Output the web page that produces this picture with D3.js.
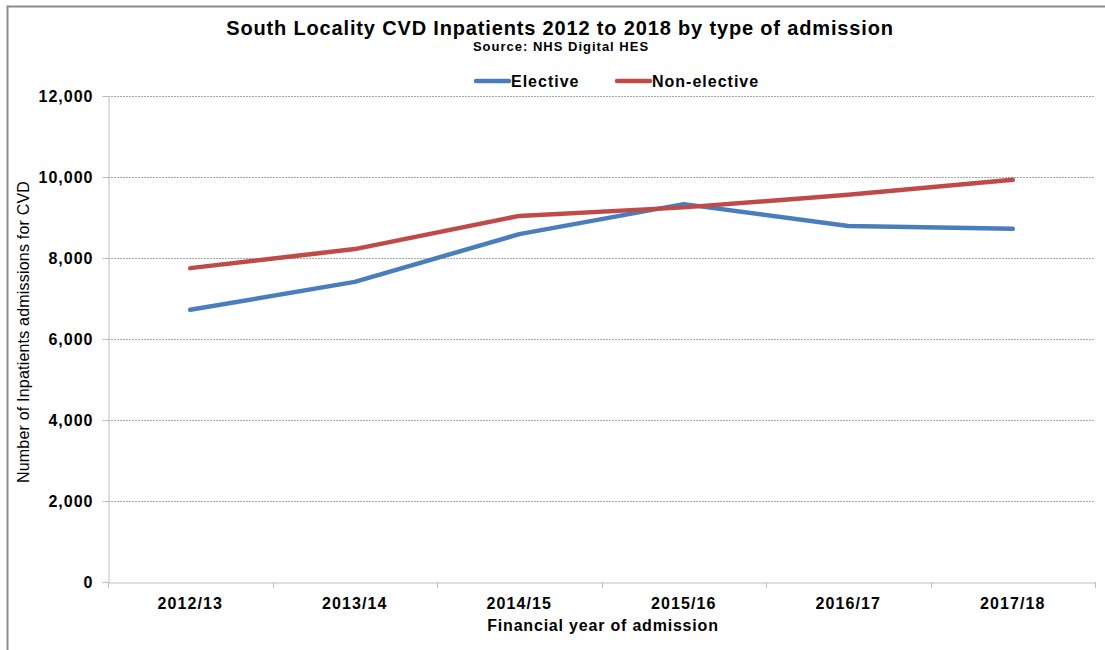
<!DOCTYPE html>
<html><head><meta charset="utf-8">
<script src="https://cdn.jsdelivr.net/npm/d3@7"></script>
<style>
html,body{margin:0;padding:0;background:#fff;}
svg{display:block;font-family:"Liberation Sans",Arial,sans-serif;}
</style></head>
<body>
<svg id="chart" width="1105" height="650"></svg>
<script>
const categories = ["2012/13","2013/14","2014/15","2015/16","2016/17","2017/18"];
const elective = [6720, 7410, 8590, 9330, 8790, 8720];
const nonElective = [7750, 8220, 9040, 9250, 9560, 9930];
const yTicks = [0, 2000, 4000, 6000, 8000, 10000, 12000];
const seriesNames = ["Elective", "Non-elective"];
const seriesColors = ["#4a7ebb", "#be4b48"];

const svg = d3.select("#chart");
const margin = {left:108, right:1095, top:96, bottom:582};

// outer frame (left + top)
svg.append("path").attr("d","M7.5,650 L7.5,6.5 L1105,6.5")
  .attr("fill","none").attr("stroke","#8c8c8c").attr("stroke-width",2);

const x = d3.scaleBand().domain(categories).range([margin.left, margin.right]).padding(0);
const y = d3.scaleLinear().domain([0,12000]).range([margin.bottom, margin.top]);

// gridlines
svg.append("g").selectAll("line").data(yTicks.filter(d=>d>0)).join("line")
  .attr("x1",margin.left).attr("x2",margin.right)
  .attr("y1",d=>Math.round(y(d))+0.5).attr("y2",d=>Math.round(y(d))+0.5)
  .attr("stroke","#a6a6a6").attr("stroke-width",1).attr("stroke-dasharray","2,1");

// y axis
const yAxis = svg.append("g").attr("transform",`translate(${margin.left+0.5},0)`)
  .call(d3.axisLeft(y).tickValues(yTicks).tickSize(6).tickPadding(9).tickFormat(d3.format(",")));
yAxis.select(".domain").attr("stroke","#bfbfbf");
yAxis.selectAll(".tick line").attr("stroke","#bfbfbf");
yAxis.selectAll("text").attr("font-size",16).attr("font-weight","bold").attr("fill","#000")
  .attr("letter-spacing",1).attr("font-family","Liberation Sans, Arial, sans-serif");

// x axis
const xAxis = svg.append("g").attr("transform",`translate(0,${margin.bottom+0.5})`)
  .call(d3.axisBottom(x).tickSize(0).tickPadding(15));
xAxis.select(".domain").attr("stroke","#bfbfbf");
xAxis.selectAll("text").attr("font-size",16).attr("font-weight","bold").attr("fill","#000")
  .attr("letter-spacing",1.1).attr("font-family","Liberation Sans, Arial, sans-serif");
// category boundary ticks
const bounds = categories.map(c=>x(c)).concat([x(categories[categories.length-1])+x.bandwidth()]);
svg.append("g").selectAll("line").data(bounds).join("line")
  .attr("x1",d=>Math.round(d)+0.5).attr("x2",d=>Math.round(d)+0.5)
  .attr("y1",margin.bottom).attr("y2",margin.bottom+6)
  .attr("stroke","#bfbfbf");

// lines
const line = d3.line().x((d,i)=>x(categories[i])+x.bandwidth()/2).y(d=>y(d));
[elective, nonElective].forEach((s,i)=>{
  svg.append("path").datum(s).attr("d",line).attr("fill","none")
    .attr("stroke",seriesColors[i]).attr("stroke-width",4.5)
    .attr("stroke-linejoin","round").attr("stroke-linecap","round");
});

// title
svg.append("text").attr("x",560).attr("y",35).attr("text-anchor","middle")
  .attr("font-size",20).attr("font-weight","bold").attr("letter-spacing",0.84)
  .text("South Locality CVD Inpatients 2012 to 2018 by type of admission");
svg.append("text").attr("x",561).attr("y",51).attr("text-anchor","middle")
  .attr("font-size",13).attr("font-weight","bold").attr("letter-spacing",1)
  .text("Source: NHS Digital HES");

// legend
const legX = [476, 617];
seriesNames.forEach((n,i)=>{
  svg.append("line").attr("x1",legX[i]).attr("x2",legX[i]+33).attr("y1",81).attr("y2",81)
    .attr("stroke",seriesColors[i]).attr("stroke-width",4.5).attr("stroke-linecap","round");
  svg.append("text").attr("x",legX[i]+35).attr("y",87).attr("font-size",16).attr("font-weight","bold")
    .attr("letter-spacing",1).text(n);
});

// axis titles
svg.append("text").attr("x",603).attr("y",631).attr("text-anchor","middle")
  .attr("font-size",16).attr("font-weight","bold").attr("letter-spacing",0.8).text("Financial year of admission");
svg.append("text").attr("transform",`translate(29,332) rotate(-90)`)
  .attr("text-anchor","middle").attr("font-size",16).attr("letter-spacing",0.2)
  .text("Number of Inpatients admissions for CVD");
</script>
</body></html>
